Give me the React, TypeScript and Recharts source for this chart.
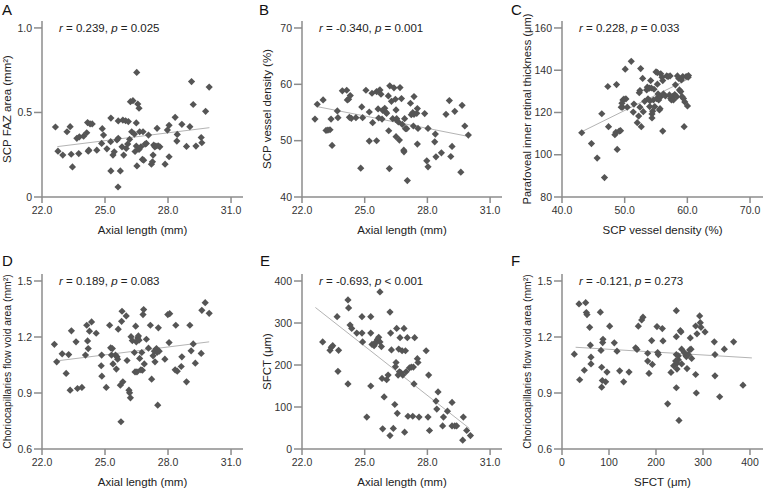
import React from 'react';
import { ScatterChart, Scatter, XAxis, YAxis, ReferenceLine } from 'recharts';

// [x, y] pairs
const fazVsAxial = [
	[22.64, 0.414], [22.76, 0.271], [22.99, 0.248], [23.19, 0.386], [23.34, 0.416], [23.39, 0.253], [23.45, 0.178], [23.66, 0.347],
	[23.75, 0.257], [23.78, 0.356], [23.98, 0.36], [24.17, 0.44], [24.13, 0.38], [24.2, 0.271], [24.23, 0.277], [24.29, 0.432],
	[24.39, 0.432], [24.61, 0.277], [24.84, 0.317], [24.87, 0.404], [24.93, 0.366], [25.09, 0.285], [25.28, 0.467], [25.27, 0.327],
	[25.28, 0.154], [25.38, 0.248], [25.44, 0.267], [25.57, 0.337], [25.63, 0.45], [25.63, 0.347], [25.62, 0.059], [25.73, 0.154],
	[25.81, 0.297], [25.85, 0.455], [25.89, 0.248], [25.98, 0.451], [26.01, 0.287], [26.08, 0.313], [26.11, 0.446], [26.17, 0.341],
	[26.21, 0.564], [26.27, 0.386], [26.33, 0.57], [26.4, 0.372], [26.43, 0.269], [26.49, 0.438], [26.49, 0.301], [26.51, 0.737],
	[26.52, 0.184], [26.56, 0.55], [26.62, 0.281], [26.62, 0.525], [26.65, 0.386], [26.71, 0.297], [26.78, 0.222], [26.81, 0.386],
	[26.84, 0.218], [26.91, 0.313], [26.97, 0.317], [27.07, 0.366], [27.21, 0.194], [27.26, 0.208], [27.29, 0.248], [27.32, 0.307],
	[27.37, 0.297], [27.42, 0.301], [27.48, 0.406], [27.53, 0.303], [27.61, 0.297], [27.86, 0.194], [27.97, 0.396], [28.05, 0.424],
	[28.05, 0.238], [28.34, 0.471], [28.42, 0.331], [28.44, 0.37], [28.66, 0.43], [28.88, 0.299], [29.04, 0.416], [29.12, 0.683],
	[29.2, 0.547], [29.33, 0.301], [29.58, 0.352], [29.61, 0.321], [29.79, 0.507], [29.96, 0.65],
];

const vdVsAxial = [
	[22.62, 53.84], [22.73, 56.46], [23.01, 57.23], [23.15, 51.82], [23.24, 51.88], [23.34, 51.94], [23.39, 53.84], [23.44, 49.15],
	[23.69, 55.27], [23.72, 54.08], [23.93, 58.84], [24.14, 58.95], [24.17, 57.23], [24.23, 57.35], [24.27, 54.14], [24.31, 58.0],
	[24.36, 53.96], [24.58, 54.08], [24.81, 45.11], [24.86, 55.98], [24.9, 54.08], [25.06, 58.95], [25.22, 49.92], [25.22, 55.09],
	[25.38, 53.19], [25.35, 58.42], [25.57, 49.98], [25.57, 58.72], [25.64, 55.63], [25.67, 54.02], [25.69, 58.84], [25.73, 59.01],
	[25.78, 58.24], [25.83, 53.84], [25.86, 55.39], [25.96, 55.75], [26.02, 55.03], [26.05, 54.85], [26.13, 57.94], [26.15, 51.76],
	[26.18, 45.05], [26.2, 59.73], [26.28, 56.99], [26.34, 53.9], [26.4, 59.37], [26.47, 57.35], [26.5, 55.45], [26.5, 50.7],
	[26.52, 53.67], [26.53, 53.9], [26.61, 53.31], [26.66, 50.1], [26.69, 59.43], [26.76, 57.47], [26.8, 52.89], [26.87, 48.32],
	[26.88, 48.02], [26.91, 53.9], [26.95, 52.12], [27.01, 52.12], [27.04, 42.91], [27.19, 56.64], [27.23, 54.62], [27.3, 54.97],
	[27.33, 52.6], [27.36, 54.68], [27.36, 57.83], [27.49, 54.85], [27.52, 49.39], [27.55, 52.18], [27.52, 55.69], [27.87, 54.8],
	[27.97, 46.42], [28.03, 45.35], [28.03, 52.18], [28.35, 49.8], [28.38, 51.17], [28.41, 47.13], [28.67, 47.84], [28.89, 54.68],
	[29.05, 57.11], [29.12, 47.19], [29.18, 48.97], [29.31, 55.21], [29.6, 44.4], [29.66, 56.28], [29.79, 52.6], [29.96, 50.99],
];

const irtVsVd = [
	[43.15, 110.4], [44.7, 105.3], [45.61, 98.4], [46.35, 119.4], [46.78, 89.2], [47.31, 132.3], [47.42, 113.3], [48.44, 109.5],
	[48.6, 110.6], [48.7, 133.2], [48.81, 102.5], [49.13, 111.2], [49.34, 111.4], [49.45, 122.5], [49.66, 122.5], [49.72, 125.9],
	[49.56, 124.4], [49.88, 126.3], [50.09, 140.5], [50.2, 126.4], [50.41, 122.5], [51.05, 144.2], [51.37, 120.2], [51.48, 124.0],
	[52.01, 115.2], [52.23, 118.3], [52.33, 129.4], [52.44, 130.4], [52.44, 122.5], [52.55, 140.8], [52.65, 113.3], [52.87, 136.1],
	[52.97, 120.4], [53.19, 125.3], [53.51, 130.7], [53.61, 132.0], [53.72, 126.4], [53.93, 131.5], [53.99, 122.8], [54.04, 125.5],
	[54.15, 135.1], [54.25, 131.6], [54.36, 119.3], [54.36, 117.4], [54.47, 120.6], [54.58, 125.9], [54.68, 131.0], [54.79, 122.8],
	[55.0, 139.2], [55.11, 126.6], [55.22, 138.9], [55.22, 133.4], [55.32, 128.8], [55.43, 125.9], [55.54, 121.2], [55.64, 121.8],
	[55.75, 138.3], [55.75, 127.5], [55.96, 136.7], [56.07, 111.2], [56.07, 135.1], [56.18, 128.8], [56.5, 127.8], [56.71, 137.3],
	[56.92, 137.0], [57.14, 128.3], [57.25, 137.3], [57.35, 126.6], [57.46, 125.9], [57.62, 127.5], [57.78, 125.9], [57.99, 128.5],
	[58.1, 133.1], [58.31, 127.5], [58.42, 137.3], [58.63, 136.1], [58.74, 130.7], [58.95, 129.9], [59.06, 135.4], [59.17, 127.5],
	[59.27, 137.0], [59.38, 126.6], [59.49, 113.3], [59.59, 125.0], [59.81, 137.0], [60.02, 123.1], [60.13, 136.7], [60.18, 137.5],
];

const cfvVsAxial = [
	[22.59, 1.161], [22.7, 1.067], [22.96, 1.11], [23.15, 1.005], [23.27, 1.106], [23.34, 0.915], [23.4, 1.233], [23.62, 1.174],
	[23.69, 0.924], [23.9, 0.93], [24.07, 1.103], [24.13, 1.263], [24.17, 1.179], [24.2, 1.138], [24.26, 1.231], [24.36, 1.281],
	[24.58, 1.22], [24.84, 1.103], [24.82, 1.046], [24.85, 0.99], [25.06, 0.93], [25.22, 1.263], [25.27, 1.142], [25.31, 1.103],
	[25.35, 1.138], [25.38, 1.056], [25.5, 1.103], [25.54, 1.028], [25.57, 1.094], [25.6, 1.081], [25.63, 1.242], [25.73, 0.942],
	[25.76, 0.746], [25.79, 1.284], [25.81, 1.338], [25.85, 0.96], [26.01, 1.313], [26.05, 1.074], [26.14, 0.915], [26.17, 0.901],
	[26.21, 0.874], [26.24, 1.202], [26.3, 1.181], [26.4, 1.117], [26.43, 1.013], [26.46, 1.258], [26.49, 1.174], [26.52, 1.013],
	[26.56, 1.195], [26.59, 1.206], [26.62, 1.183], [26.65, 1.085], [26.71, 1.024], [26.75, 1.117], [26.78, 1.022], [26.81, 1.32],
	[26.84, 1.347], [26.87, 1.056], [26.97, 1.188], [27.07, 1.14], [27.16, 1.263], [27.22, 0.974], [27.29, 1.099], [27.35, 1.124],
	[27.38, 1.067], [27.45, 1.138], [27.48, 1.117], [27.51, 0.835], [27.54, 1.249], [27.58, 1.124], [27.85, 1.081], [27.99, 1.32],
	[28.05, 1.17], [28.08, 1.325], [28.34, 1.024], [28.37, 1.263], [28.44, 1.017], [28.63, 1.042], [28.66, 1.094], [28.88, 0.96],
	[29.04, 1.263], [29.1, 1.126], [29.2, 1.163], [29.3, 1.06], [29.58, 1.112], [29.61, 1.343], [29.77, 1.384], [29.96, 1.327],
];

const sfctVsAxial = [
	[22.99, 255], [23.34, 235], [23.4, 242], [23.47, 246], [23.68, 315], [23.72, 185], [23.75, 235], [24.2, 355],
	[24.23, 336], [24.2, 155], [24.3, 295], [24.38, 287], [24.62, 276], [24.87, 276], [24.87, 315], [24.9, 255],
	[25.1, 76], [25.29, 315], [25.29, 276], [25.29, 150], [25.35, 249], [25.45, 246], [25.48, 250], [25.54, 255],
	[25.61, 261], [25.67, 266], [25.73, 374], [25.73, 255], [25.8, 244], [25.83, 168], [25.86, 48], [25.93, 124],
	[26.05, 165], [26.12, 176], [26.21, 326], [26.24, 276], [26.21, 32], [26.28, 236], [26.37, 49], [26.44, 106],
	[26.47, 196], [26.5, 206], [26.53, 287], [26.56, 85], [26.6, 176], [26.63, 238], [26.66, 184], [26.69, 265],
	[26.72, 182], [26.79, 234], [26.82, 176], [26.88, 287], [26.91, 40], [26.95, 234], [26.98, 184], [27.04, 265],
	[27.07, 78], [27.14, 193], [27.23, 195], [27.3, 78], [27.33, 195], [27.36, 155], [27.39, 265], [27.52, 215],
	[27.55, 206], [27.6, 76], [27.94, 234], [28.03, 76], [28.06, 176], [28.1, 44], [28.41, 114], [28.45, 95],
	[28.51, 136], [28.73, 55], [28.77, 76], [28.96, 90], [29.18, 111], [29.18, 55], [29.31, 55], [29.4, 55],
	[29.69, 21], [29.72, 76], [29.88, 44], [30.06, 32],
];

const cfvVsSfct = [
	[26.2, 1.108], [36.2, 1.377], [37.6, 0.971], [47.5, 1.022], [50.4, 1.384], [51.8, 1.331], [53.2, 1.32], [58.9, 1.252],
	[60.3, 1.156], [61.7, 1.092], [61.7, 1.056], [81.6, 1.333], [83.0, 1.128], [84.4, 1.038], [84.4, 0.931], [85.8, 0.967],
	[86.5, 1.17], [87.2, 1.188], [92.9, 0.96], [95.7, 1.012], [101.4, 1.258], [111.3, 1.169], [117.0, 1.124], [122.7, 1.019],
	[131.2, 0.96], [142.6, 1.012], [156.7, 1.142], [159.6, 1.133], [162.4, 1.258], [169.5, 1.291], [172.3, 1.306], [182.3, 1.113],
	[182.3, 1.071], [185.1, 1.005], [190.8, 1.181], [192.2, 1.053], [202.1, 1.256], [203.5, 1.117], [205.0, 1.106], [213.5, 1.245],
	[214.9, 1.179], [224.8, 0.842], [231.9, 1.01], [237.6, 1.046], [243.3, 1.341], [243.3, 1.202], [243.3, 1.106], [241.8, 1.071],
	[244.7, 1.06], [243.3, 0.928], [244.7, 1.028], [247.5, 1.078], [247.5, 1.099], [248.9, 0.753], [251.8, 1.234], [253.2, 1.227],
	[254.6, 1.056], [254.6, 1.135], [260.3, 1.117], [263.1, 1.103], [264.5, 1.095], [266.0, 1.031], [268.8, 1.106], [271.6, 1.131],
	[273.0, 1.195], [274.5, 1.135], [275.9, 1.085], [284.4, 1.259], [287.2, 1.217], [284.4, 0.999], [285.8, 0.9], [292.9, 1.313],
	[294.3, 1.277], [295.7, 1.252], [304.3, 1.227], [324.1, 1.174], [325.5, 1.106], [325.5, 0.992], [335.5, 0.88], [345.4, 1.135],
	[365.2, 1.174], [385.1, 0.942],
];

// regression line end points
const fitA = [[22.73, 0.298], [29.97, 0.41]];
const fitB = [[22.73, 56.04], [29.88, 50.81]];
const fitC = [[43.15, 110.9], [59.86, 135.4]];
const fitD = [[22.7, 1.072], [29.96, 1.174]];
const fitE = [[22.64, 337], [30.01, 49]];
const fitF = [[29, 1.145], [404, 1.088]];

const axialTicks = [22, 25, 28, 31];
const axialLabels = ['22.0', '25.0', '28.0', '31.0'];
const vdTicks = [40, 50, 60, 70];
const vdLabels = ['40.0', '50.0', '60.0', '70.0'];
const sfctTicks = [0, 100, 200, 300, 400];
const fazTicks = [0, 0.5, 1];
const fazLabels = ['0', '0.5', '1.0'];
const vdYTicks = [40, 50, 60, 70];
const irtTicks = [80, 100, 120, 140, 160];
const cfvTicks = [0.6, 0.9, 1.2, 1.5];
const cfvLabels = ['0.6', '0.9', '1.2', '1.5'];

const FONT = '"Liberation Sans", Arial, sans-serif';
const AXIS = '#8c8c8c';

const Diamond = (props: any) => {
	const { cx, cy } = props;
	const r = 3.6;
	return <path d={`M${cx},${cy - r}L${cx + r},${cy}L${cx},${cy + r}L${cx - r},${cy}Z`} fill='#555' />;
};

const panels = [
	{
		letter: 'A', r: '0.239', p: '= 0.025', pl: 42, pr: 243, pt: 21, pb: 197, lx: 2, ly: 2, yfs: 11.5,
		data: fazVsAxial, fit: fitA, xd: [22, 31.57], yd: [0, 1.041], xt: axialTicks, xl: axialLabels, yt: fazTicks, yl: fazLabels,
		xTitle: 'Axial length (mm)', yTitle: 'SCP FAZ area (mm²)',
	},
	{
		letter: 'B', r: '-0.340', p: '= 0.001', pl: 302, pr: 502, pt: 21, pb: 197, lx: 259, ly: 2, yfs: 11.5,
		data: vdVsAxial, fit: fitB, xd: [22, 31.57], yd: [40, 71.24], xt: axialTicks, xl: axialLabels, yt: vdYTicks, yl: null,
		xTitle: 'Axial length (mm)', yTitle: 'SCP vessel density (%)',
	},
	{
		letter: 'C', r: '0.228', p: '= 0.033', pl: 562, pr: 763, pt: 21, pb: 197, lx: 511, ly: 2, yfs: 11.2,
		data: irtVsVd, fit: fitC, xd: [40, 72.07], yd: [80, 163.3], xt: vdTicks, xl: vdLabels, yt: irtTicks, yl: null,
		xTitle: 'SCP vessel density (%)', yTitle: 'Parafoveal inner retinal thickness (μm)',
	},
	{
		letter: 'D', r: '0.189', p: '= 0.083', pl: 42, pr: 243, pt: 274, pb: 449, lx: 2, ly: 253, yfs: 10.4,
		data: cfvVsAxial, fit: fitD, xd: [22, 31.57], yd: [0.6, 1.5375], xt: axialTicks, xl: axialLabels, yt: cfvTicks, yl: cfvLabels,
		xTitle: 'Axial length (mm)', yTitle: 'Choriocapillaries flow void area (mm²)',
	},
	{
		letter: 'E', r: '-0.693', p: '< 0.001', pl: 302, pr: 502, pt: 274, pb: 449, lx: 260, ly: 253, yfs: 11.5,
		data: sfctVsAxial, fit: fitE, xd: [22, 31.57], yd: [0, 416.7], xt: axialTicks, xl: axialLabels, yt: sfctTicks, yl: null,
		xTitle: 'Axial length (mm)', yTitle: 'SFCT (μm)',
	},
	{
		letter: 'F', r: '-0.121', p: '= 0.273', pl: 562, pr: 763, pt: 274, pb: 449, lx: 511, ly: 253, yfs: 10.4,
		data: cfvVsSfct, fit: fitF, xd: [0, 427.7], yd: [0.6, 1.5375], xt: sfctTicks, xl: null, yt: cfvTicks, yl: cfvLabels,
		xTitle: 'SFCT (μm)', yTitle: 'Choriocapillaries flow void area (mm²)',
	},
];

function Panel({ cfg }: { cfg: any }) {
	const w = cfg.pr - cfg.pl;
	const h = cfg.pb - cfg.pt;
	const points = cfg.data.map(([x, y]: number[]) => ({ x, y }));
	const tick = { fontSize: 10.5, fill: '#333', fontFamily: FONT };
	return (
		<>
			<div style={{ position: 'absolute', left: cfg.pl - 45, top: cfg.pt - 10 }}>
				<ScatterChart width={w + 55} height={h + 50} margin={{ top: 10, right: 10, bottom: 0, left: 0 }}>
					<XAxis
						type='number'
						dataKey='x'
						domain={cfg.xd}
						ticks={cfg.xt}
						allowDataOverflow
						tickFormatter={(v: number, i: number) => (cfg.xl ? cfg.xl[i] : String(v))}
						height={40}
						stroke={AXIS}
						strokeWidth={1.5}
						tickSize={6}
						tickMargin={4}
						tick={tick}
						label={{ value: cfg.xTitle, position: 'insideBottom', offset: 3, fontSize: 11.5, fill: '#222', fontFamily: FONT }}
					/>
					<YAxis
						type='number'
						dataKey='y'
						domain={cfg.yd}
						ticks={cfg.yt}
						allowDataOverflow
						tickFormatter={(v: number, i: number) => (cfg.yl ? cfg.yl[i] : String(v))}
						width={45}
						stroke={AXIS}
						strokeWidth={1.5}
						tickSize={8}
						tickMargin={2}
						tick={tick}
						label={{
							value: cfg.yTitle,
							angle: -90,
							position: 'insideLeft',
							offset: 10,
							fontSize: cfg.yfs,
							fill: '#222',
							fontFamily: FONT,
							style: { textAnchor: 'middle' },
						}}
					/>
					<ReferenceLine
						segment={[{ x: cfg.fit[0][0], y: cfg.fit[0][1] }, { x: cfg.fit[1][0], y: cfg.fit[1][1] }]}
						stroke='#b4b4b4'
						strokeWidth={1}
						ifOverflow='visible'
					/>
					<Scatter data={points} shape={Diamond} isAnimationActive={false} />
				</ScatterChart>
			</div>
			<div style={{ position: 'absolute', left: cfg.lx, top: cfg.ly, fontSize: 15, lineHeight: '15px', fontFamily: FONT, color: '#111' }}>
				{cfg.letter}
			</div>
			<div
				style={{
					position: 'absolute',
					left: cfg.pl + 17,
					top: cfg.pt + 0.5,
					fontSize: 11.5,
					lineHeight: '12px',
					fontFamily: FONT,
					color: '#222',
					whiteSpace: 'nowrap',
				}}
			>
				<i>r</i> = {cfg.r}, <i>p</i> {cfg.p}
			</div>
		</>
	);
}

export default function App() {
	return (
		<div style={{ position: 'absolute', left: 0, top: 0, width: 763, height: 491, overflow: 'hidden', background: '#fff' }}>
			{panels.map((cfg) => (
				<Panel key={cfg.letter} cfg={cfg} />
			))}
		</div>
	);
}
